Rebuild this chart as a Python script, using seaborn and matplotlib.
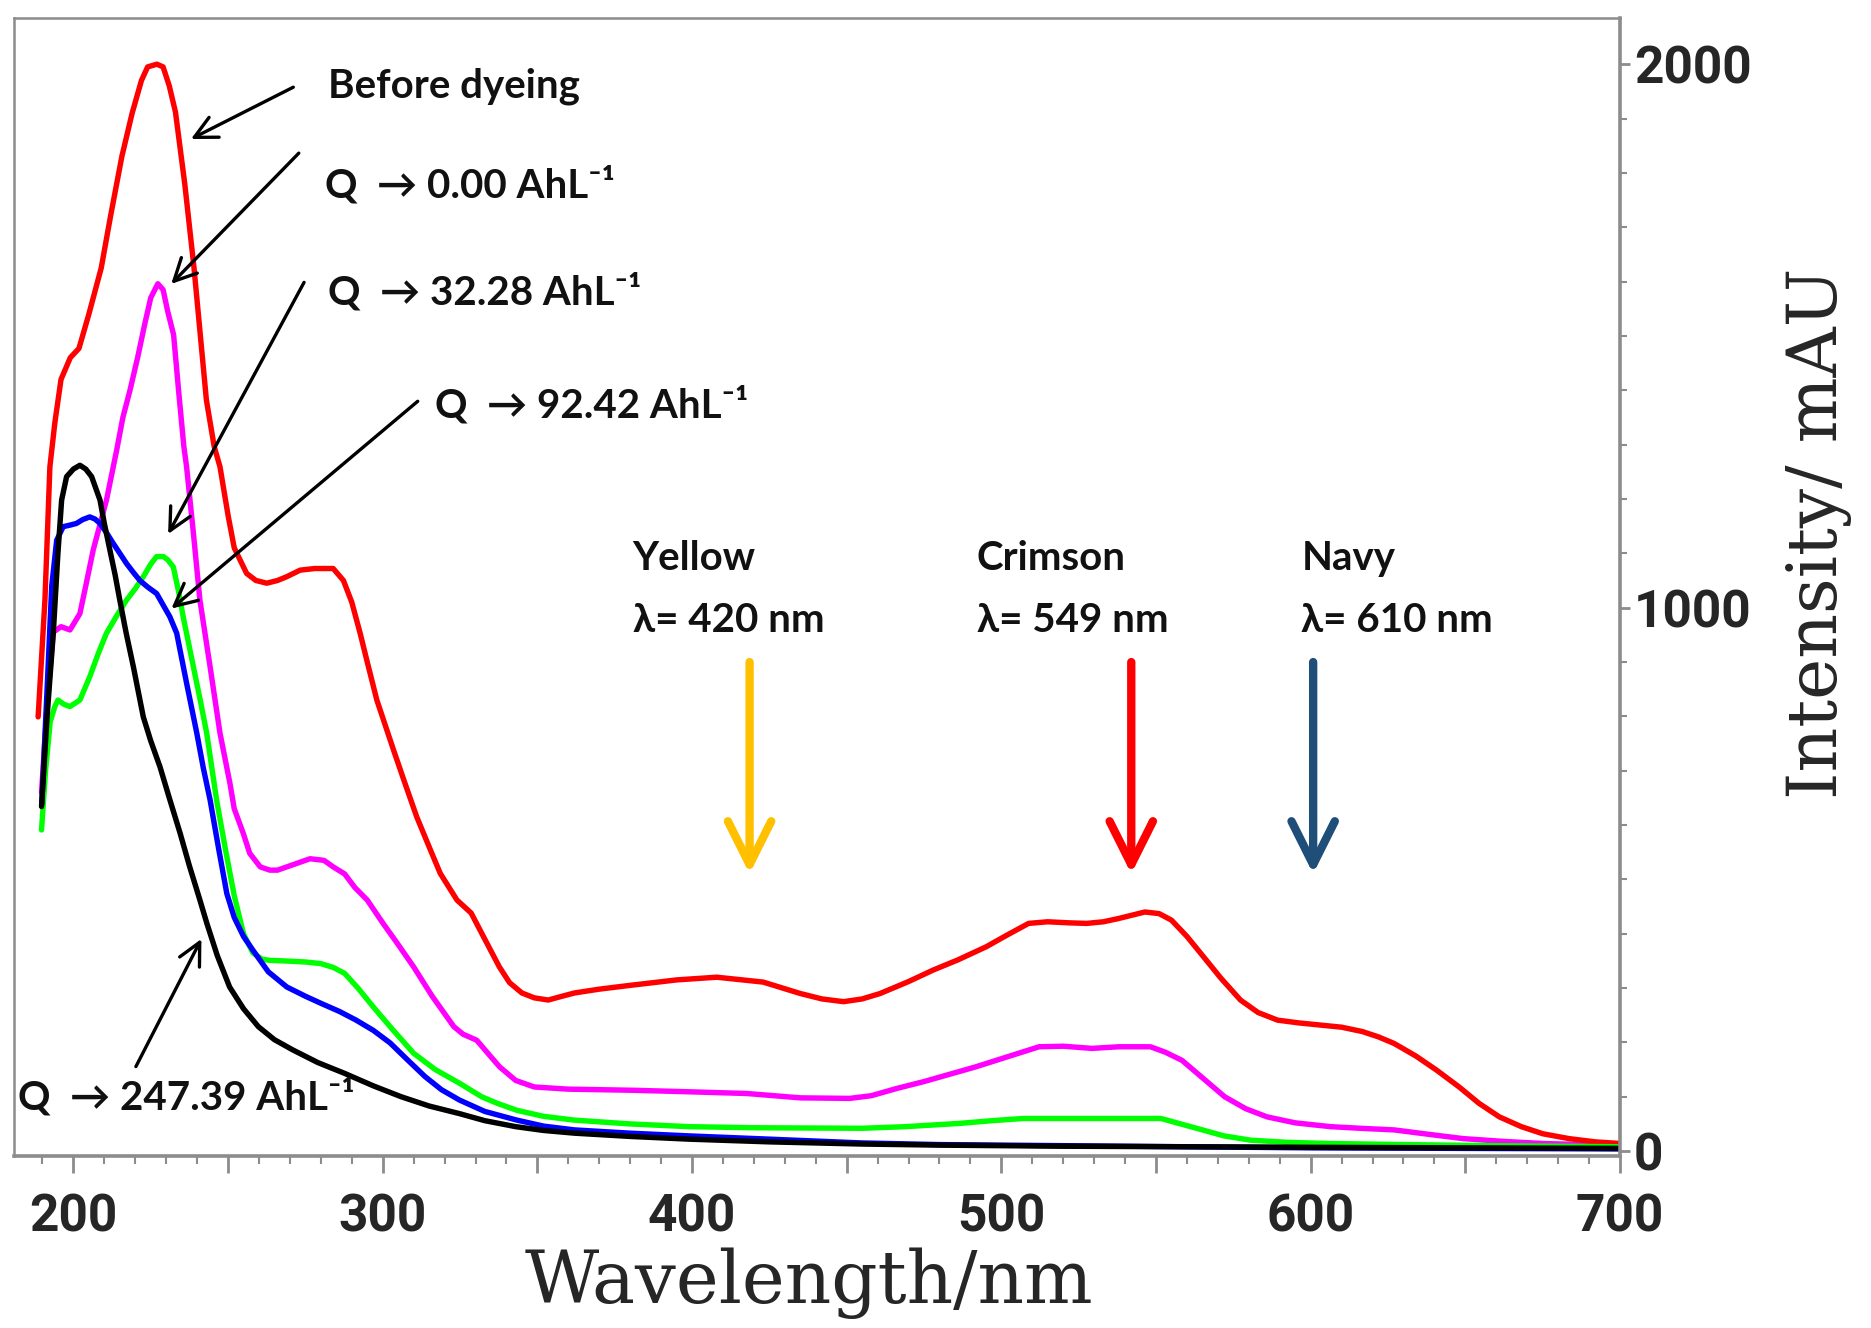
import matplotlib
matplotlib.use("Agg")
import matplotlib.pyplot as plt
import seaborn as sns
from matplotlib.ticker import MultipleLocator, FuncFormatter

# Spectra: wavelength (nm) and intensity (mAU)
wl_before = [188.6, 190.8, 192.4, 194, 196, 199, 201.8, 205, 209, 212, 215.7, 219, 222, 224, 227, 229,
             231, 233, 236, 239, 243, 245.5, 247.4, 250, 252, 256, 259, 262.5, 266, 269, 273.3, 278,
             284, 287.3, 290, 292.7, 295, 298.1, 303.5, 307, 311, 315, 318.6, 324, 328.6, 333, 337.7,
             341, 345, 349, 353.5, 358, 362, 370, 380, 395, 408, 423, 435, 442, 449, 455, 460.8, 470,
             477.9, 486, 495.1, 502, 508.8, 515, 522, 527.6, 533, 537.9, 546.4, 551, 555, 560, 565.3,
             571, 577.3, 583, 589.3, 596, 603, 610, 616.7, 622, 627, 634, 640.7, 648, 654.4, 661,
             668.1, 675, 683.5, 692, 700]
int_before = [799, 1014, 1259, 1340, 1420, 1460, 1477, 1540, 1625, 1720, 1831, 1910, 1970, 1995, 2000,
              1995, 1960, 1912, 1780, 1625, 1382, 1297, 1259, 1170, 1110, 1063, 1050, 1045, 1050, 1057,
              1069, 1072, 1072, 1050, 1010, 953, 900, 830, 738, 680, 615, 560, 511, 462, 438, 390, 339,
              310, 291, 282, 278, 285, 291, 298, 305, 315, 320, 311, 290, 280, 275, 280, 290, 312, 333,
              352, 376, 398, 419, 422, 420, 419, 422, 428, 440, 437, 425, 395, 358, 318, 278, 255, 241,
              236, 232, 228, 220, 210, 198, 175, 149, 118, 88, 63, 45, 32, 23, 17, 14]

wl_q000 = [189.7, 191.5, 193.5, 196, 198.9, 202.1, 204, 206.4, 210.7, 214, 216, 218.3, 220.8, 223, 225,
           227.3, 229, 230.5, 232.4, 234, 235.7, 236.6, 238.8, 240.9, 244.2, 247.4, 250.6, 252, 254.9,
           257, 260.4, 263.5, 266, 270, 276.5, 281, 284, 287.7, 291, 295, 300, 305, 310, 316, 323, 326,
           330.4, 334, 337.8, 343, 349, 360, 380.6, 400, 417.7, 435, 451, 458, 466, 475, 491.7, 500,
           512.2, 520, 529.3, 538, 548.2, 553, 558.4, 565, 572.2, 579, 585.9, 595, 606.4, 616, 627, 638,
           649.3, 662, 675, 688, 700]
int_q000 = [660, 820, 955, 965, 959, 989, 1040, 1106, 1198, 1290, 1350, 1400, 1461, 1520, 1570, 1596,
            1585, 1545, 1502, 1400, 1297, 1259, 1137, 1014, 891, 769, 677, 630, 585, 548, 523, 517, 517,
            525, 538, 535, 523, 510, 485, 462, 420, 380, 339, 285, 229, 215, 204, 180, 155, 130, 118,
            114, 112, 109, 106, 98, 97, 102, 115, 128, 155, 170, 192, 193, 189, 192, 192, 182, 167, 135,
            100, 78, 63, 52, 45, 42, 39, 31, 23, 18, 14, 12, 11]

wl_q3228 = [189.7, 191, 192.5, 194, 195, 197, 198.9, 202.1, 205.3, 208, 210.7, 214, 217.2, 220, 222.6,
            225, 226.9, 229.1, 230.5, 232.3, 234, 235.5, 238.8, 241, 243.1, 246.3, 249, 252, 255, 258,
            261, 263.5, 268, 275, 280, 284, 287.7, 292, 297, 303, 310, 317, 324.8, 332, 337, 343.4, 352,
            362, 380, 399, 420, 455, 469, 486.5, 497, 507, 530, 551.6, 558, 565, 572, 580.7, 593, 606,
            630, 660, 700]
int_q3228 = [591, 700, 790, 818, 830, 822, 818, 830, 873, 915, 953, 985, 1014, 1035, 1057, 1080, 1094,
             1094, 1088, 1075, 1030, 983, 891, 830, 769, 646, 560, 470, 400, 365, 353, 351, 350, 348,
             345, 338, 327, 300, 265, 225, 180, 150, 125, 100, 88, 75, 64, 57, 50, 45, 43, 42, 45, 51,
             56, 60, 60, 60, 50, 39, 28, 20, 16, 14, 12, 10, 8]

wl_q9242 = [189.8, 191.5, 193, 194.6, 196.7, 199, 201, 203, 205.3, 207, 208.6, 210.7, 212.9, 215, 217.2,
            219.5, 221.5, 224, 226.9, 229, 231.2, 233.4, 236.6, 239.9, 242, 244.2, 247, 249.6, 252, 255,
            258, 263, 269, 275, 280, 286, 291.4, 297, 302.4, 308, 313.7, 319, 324.8, 333, 343.4, 352,
            362, 380, 399, 425, 455, 480, 520, 560, 600, 650, 700]
int_q9242 = [640, 850, 1040, 1124, 1149, 1152, 1155, 1162, 1167, 1163, 1155, 1138, 1118, 1100, 1081,
             1064, 1050, 1038, 1026, 1005, 983, 953, 861, 769, 705, 646, 555, 474, 430, 395, 370, 330,
             302, 285, 272, 257, 241, 222, 199, 168, 137, 113, 94, 73, 57, 46, 39, 33, 28, 22, 15, 12,
             10, 8, 6, 5, 4]

wl_q24739 = [189.7, 191.5, 193.5, 195, 196.2, 197.8, 200, 202.1, 204, 205.9, 208.6, 210, 211.8, 213.5,
             215, 217, 219.4, 222.6, 225, 228, 231, 234.5, 237.5, 240.9, 243.1, 246.5, 250.5, 255,
             259.8, 265, 271, 279, 287.7, 297, 306, 315, 324.8, 333, 343, 352, 362, 380, 399, 425, 455,
             480, 520, 560, 600, 650, 700]
int_q24739 = [634, 800, 953, 1100, 1198, 1241, 1255, 1262, 1255, 1241, 1198, 1155, 1106, 1060, 1014,
              955, 891, 799, 755, 707, 650, 585, 525, 462, 420, 360, 302, 262, 229, 205, 186, 163, 143,
              120, 100, 83, 69, 56, 45, 38, 33, 27, 22, 17, 13, 11, 9, 8, 7, 6, 5]

series = [(wl_q000, int_q000, "#FF00FF"),
          (wl_before, int_before, "#FF0000"),
          (wl_q3228, int_q3228, "#00FF00"),
          (wl_q9242, int_q9242, "#0000FF"),
          (wl_q24739, int_q24739, "#000000")]

# dye absorption markers
dye_names = ["Yellow", "Crimson", "Navy"]
dye_wl = [420, 549, 610]
dye_colors = ["#FFC000", "#FF0000", "#1F4E79"]
dye_arrow_x = [418.6, 542, 600.8]
dye_text_x = [380.8, 492, 597]

sns.set_style("white")
plt.rcParams["font.family"] = ["Lato", "DejaVu Sans"]

fig = plt.figure(figsize=(18.71, 13.28), dpi=100)
ax = fig.add_axes([14 / 1871, 1 - 1156 / 1328, (1620 - 14) / 1871, (1156 - 18) / 1328])

for wl, inten, col in series:
    sns.lineplot(x=wl, y=inten, color=col, lw=3.9, ax=ax)

ax.set_xlim(180.8, 700)
ax.set_ylim(-9, 2085)

# axes styling
for side in ["left", "top"]:
    ax.spines[side].set_color("#8c8c8c")
    ax.spines[side].set_linewidth(1.8)
for side in ["right", "bottom"]:
    ax.spines[side].set_color("#8c8c8c")
    ax.spines[side].set_linewidth(2.6)

ax.yaxis.tick_right()
ax.yaxis.set_label_position("right")
ax.xaxis.set_major_locator(MultipleLocator(50))
ax.xaxis.set_minor_locator(MultipleLocator(10))
ax.xaxis.set_major_formatter(FuncFormatter(lambda v, p: "%d" % v if v % 100 == 0 else ""))
ax.yaxis.set_major_locator(MultipleLocator(1000))
ax.yaxis.set_minor_locator(MultipleLocator(100))
ax.tick_params(axis="x", which="major", direction="out", length=12, width=2, color="#8c8c8c",
               labelsize=37, pad=14, bottom=True)
ax.tick_params(axis="x", which="minor", direction="out", length=6, width=1.5, color="#8c8c8c", bottom=True)
ax.tick_params(axis="y", which="major", direction="out", length=7, width=2, color="#8c8c8c",
               labelsize=37, pad=3, right=True, left=False)
ax.tick_params(axis="y", which="minor", direction="out", length=5, width=1.5, color="#8c8c8c",
               right=True, left=False)
for lab in ax.get_xticklabels() + ax.get_yticklabels():
    lab.set_fontfamily(["Roboto", "DejaVu Sans"])
    lab.set_fontweight("bold")

ax.set_xlabel("Wavelength/nm", fontsize=52, fontfamily="DejaVu Serif")
ax.xaxis.set_label_coords(0.495, -0.112)
ax.xaxis.label.set_va("center")
ax.set_ylabel("Intensity/ mAU", fontsize=50, fontfamily="DejaVu Serif")
ax.yaxis.label.set_rotation_mode("default")
ax.yaxis.label.set_va("center")
ax.yaxis.label.set_ha("center")
ax.yaxis.set_label_coords(1.124, 0.547)

# curve annotations
txt = dict(fontsize=29, fontweight="bold", va="center", ha="left", color="#111111")
blk = dict(arrowstyle="->", color="black", lw=2.4, mutation_scale=40)
ax.text(282.3, 1960, "Before dyeing", **txt)
ax.annotate("", xy=(237.2, 1860), xytext=(271.9, 1960), arrowprops=blk)
ax.text(281.2, 1778, "Q  \u2192 0.00 AhL\u207b\u00b9", **txt)
ax.annotate("", xy=(231, 1592), xytext=(273.5, 1840), arrowprops=blk)
ax.text(282.3, 1581, "Q  \u2192 32.28 AhL\u207b\u00b9", **txt)
ax.annotate("", xy=(230.2, 1131), xytext=(275, 1603), arrowprops=blk)
ax.text(317, 1372, "Q  \u2192 92.42 AhL\u207b\u00b9", **txt)
ax.annotate("", xy=(231, 995), xytext=(312, 1383), arrowprops=blk)
ax.text(182, 99, "Q  \u2192 247.39 AhL\u207b\u00b9", **txt)
ax.annotate("", xy=(241.8, 395), xytext=(219.8, 151), arrowprops=blk)

# dye markers
for name, wl, col, ax_x, tx in zip(dye_names, dye_wl, dye_colors, dye_arrow_x, dye_text_x):
    ax.text(tx, 1091, name, **txt)
    ax.text(tx, 977, "\u03bb= %d nm" % wl, **txt)
    ax.annotate("", xy=(ax_x, 505), xytext=(ax_x, 905),
                arrowprops=dict(arrowstyle="->", color=col, lw=6, mutation_scale=78))

fig.savefig("out.png", dpi=100, facecolor="white")
